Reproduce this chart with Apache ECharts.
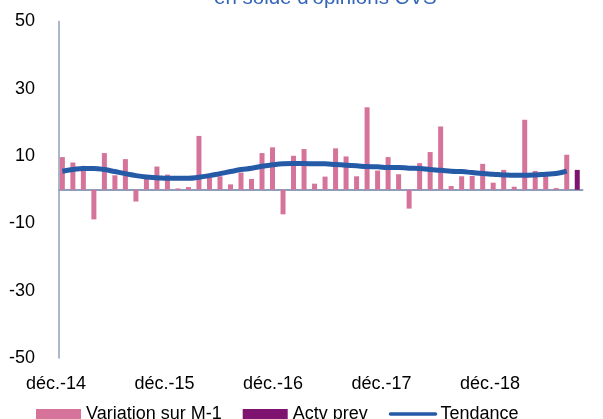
<!DOCTYPE html>
<html>
<head>
<meta charset="utf-8">
<script src="https://cdn.jsdelivr.net/npm/echarts@6/dist/echarts.min.js"></script>
<style>html,body{margin:0;padding:0;background:#fff}#c{width:603px;height:419px}</style>
</head>
<body>
<div id="c"></div>
<script>
// Monthly variation (index 0 = first month shown)
var variation = [9.7, 8.1, 7.1, -8.8, 10.9, 4.3, 9.1, -3.5, 3.3, 6.9, 4.5, 0.4, 0.8,
  16.0, 3.6, 4.0, 1.6, 5.1, 3.2, 10.9, 12.6, -7.3, 10.1, 12.1, 1.8,
  3.9, 12.3, 9.9, 4.0, 24.5, 5.7, 9.7, 4.6, -5.6, 7.9, 11.2, 18.8, 1.1,
  4.0, 4.1, 7.7, 2.1, 5.9, 0.9, 20.8, 5.6, 4.5, 0.5, 10.4];
var actvPrev = [5.9]; // forecast point after last month
var tendance = [5.5, 6.0, 6.3, 6.3, 6.0, 5.4, 4.8, 4.2, 3.8, 3.6, 3.4, 3.4, 3.4,
  3.7, 4.2, 4.8, 5.4, 6.0, 6.4, 7.0, 7.4, 7.7, 7.8, 7.8, 7.7,
  7.7, 7.5, 7.3, 7.1, 6.9, 6.8, 6.6, 6.6, 6.4, 6.3, 6.0, 5.8, 5.5,
  5.4, 5.1, 4.8, 4.6, 4.4, 4.3, 4.3, 4.4, 4.6, 4.8, 5.5];
var xTickLabels = ['déc.-14', 'déc.-15', 'déc.-16', 'déc.-17', 'déc.-18'];
var yTickValues = [-50, -30, -10, 10, 30, 50];
var titleText = "en solde d'opinions CVS";

var varData = variation.map(function (v, i) { return [i, v]; });
var prevData = actvPrev.map(function (v, i) { return [variation.length + i, v]; });
var trendData = tendance.map(function (v, i) { return [i, v]; });

var FONT = 'Liberation Sans, Arial, sans-serif';
var chart = echarts.init(document.getElementById('c'), null, {renderer: 'canvas'});
chart.setOption({
  animation: false,
  backgroundColor: '#ffffff',
  title: {
    text: titleText,
    left: 209, top: -17,
    textStyle: {color: '#3566B8', fontSize: 20.5, fontWeight: 'normal', fontFamily: FONT}
  },
  legend: {
    left: 31, top: 400,
    itemWidth: 45, itemHeight: 10, itemGap: 21,
    textStyle: {color: '#000', fontSize: 18, fontFamily: FONT},
    data: [
      {name: 'Variation sur M-1', icon: 'rect'},
      {name: 'Actv prev', icon: 'rect'},
      {name: 'Tendance', itemStyle: {opacity: 0}, lineStyle: {width: 3.5, color: '#255AA6', cap: 'round'}}
    ]
  },
  grid: {left: 59, right: 20.5, top: 21.5, bottom: 61},
  xAxis: [{
    type: 'value', min: -0.32, max: 49.5,
    axisLine: {onZero: true, lineStyle: {color: '#8EA0B9', width: 2}},
    axisTick: {show: false}, axisLabel: {show: false}, splitLine: {show: false}
  }, {
    type: 'value', position: 'bottom', min: -0.249, max: 4.576,
    axisLine: {show: false, onZero: false},
    axisTick: {show: false}, splitLine: {show: false},
    axisLabel: {
      customValues: [0, 1, 2, 3, 4],
      align: 'right', margin: 17,
      color: '#000', fontSize: 18, fontFamily: FONT,
      formatter: function (v) { return xTickLabels[Math.round(v)]; }
    }
  }],
  yAxis: {
    type: 'value', min: -50, max: 50,
    axisLine: {show: true, onZero: false, lineStyle: {color: '#8EA0B9', width: 1.5}},
    axisTick: {show: false}, splitLine: {show: false},
    axisLabel: {customValues: yTickValues, margin: 24, color: '#000', fontSize: 18, fontFamily: FONT}
  },
  series: [{
    name: 'Variation sur M-1', type: 'bar', xAxisIndex: 0,
    barWidth: 5, barGap: '-100%',
    itemStyle: {color: '#D5739A'},
    data: varData
  }, {
    name: 'Actv prev', type: 'bar', xAxisIndex: 0,
    barWidth: 5, barGap: '-100%',
    itemStyle: {color: '#7E1470'},
    data: prevData
  }, {
    name: 'Tendance', type: 'line', xAxisIndex: 0,
    smooth: true, symbol: 'none', z: 5,
    lineStyle: {color: '#255AA6', width: 5},
    itemStyle: {color: '#255AA6'},
    data: trendData
  }]
});
</script>
</body>
</html>
